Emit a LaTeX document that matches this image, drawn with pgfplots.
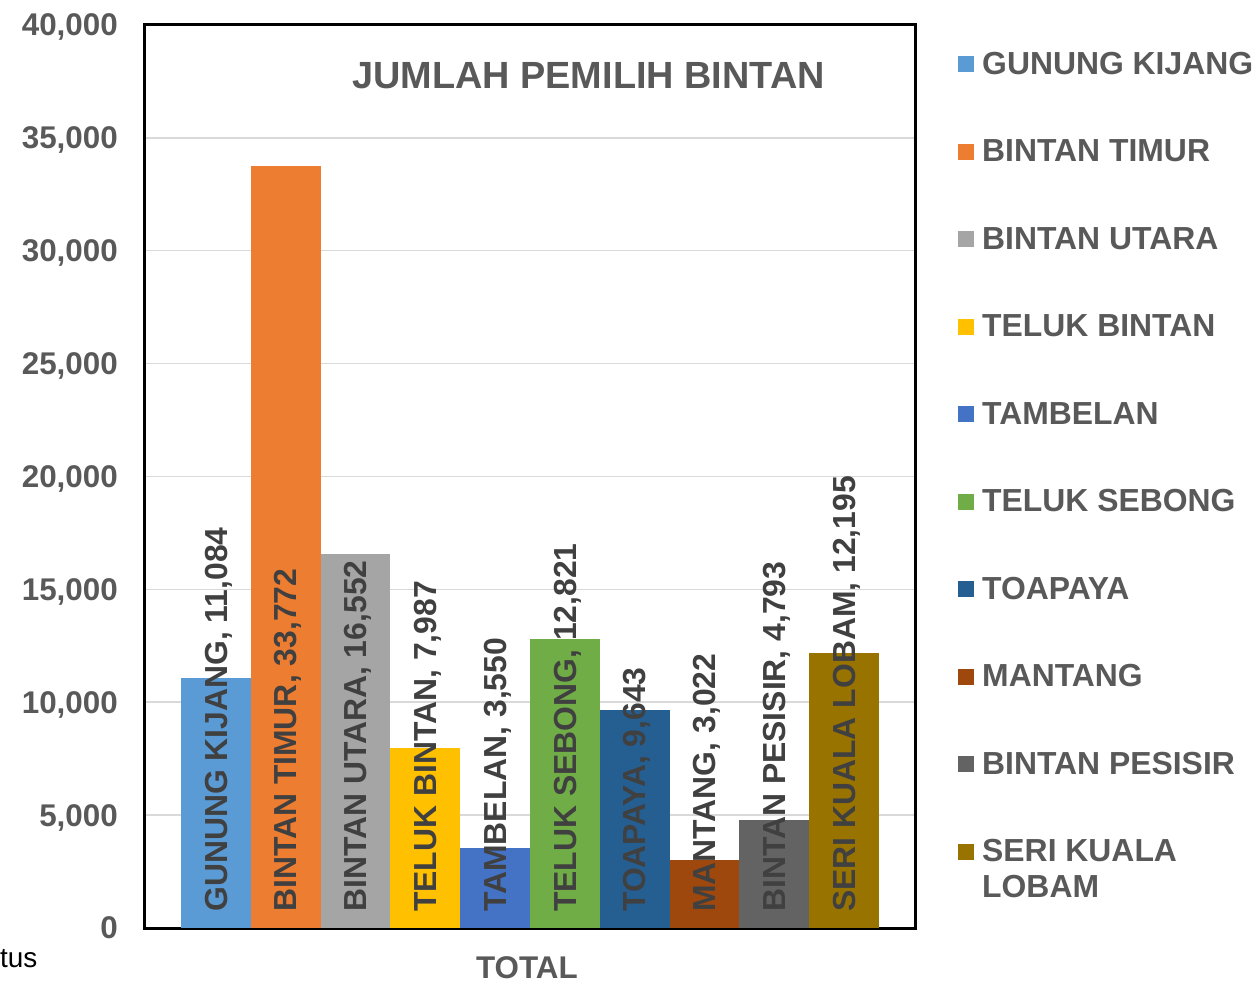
\documentclass[border=0pt]{standalone}
\usepackage{fontspec}
\setmainfont{Liberation Sans}
\usepackage{pgfplots}
\pgfplotsset{compat=1.18}
\usepackage{pgfplotstable}
\definecolor{c1}{HTML}{5B9BD5}
\definecolor{c2}{HTML}{ED7D31}
\definecolor{c3}{HTML}{A5A5A5}
\definecolor{c4}{HTML}{FFC000}
\definecolor{c5}{HTML}{4472C4}
\definecolor{c6}{HTML}{70AD47}
\definecolor{c7}{HTML}{255E91}
\definecolor{c8}{HTML}{9E480E}
\definecolor{c9}{HTML}{636363}
\definecolor{c10}{HTML}{997300}
\definecolor{txt}{HTML}{595959}
\definecolor{lbl}{HTML}{404040}
\definecolor{gridc}{HTML}{D9D9D9}

\pgfplotstableread[col sep=semicolon]{
x;y;label
0;0;GUNUNG KIJANG, 11,084
1;0;BINTAN TIMUR, 33,772
2;0;BINTAN UTARA, 16,552
3;0;TELUK BINTAN, 7,987
4;0;TAMBELAN, 3,550
5;0;TELUK SEBONG, 12,821
6;0;TOAPAYA, 9,643
7;0;MANTANG, 3,022
8;0;BINTAN PESISIR, 4,793
9;0;SERI KUALA LOBAM, 12,195
}\labeldata

\begin{document}
\begin{tikzpicture}
\begin{axis}[
  name=ax,
  scale only axis, width=770bp, height=903bp,
  xmin=-1.016, xmax=10.016, ymin=0, ymax=40000,
  bar width=1, bar shift=0pt,
  ytick={0,5000,...,40000},
  xtick=\empty,
  ymajorgrids, grid style={gridc, line width=1.5bp},
  major tick length=0pt,
  axis line style={black, line width=3bp},
  scaled y ticks=false,
  /pgf/number format/1000 sep={,},
  /pgf/number format/assume math mode=true,
  yticklabel style={font=\bfseries\fontsize{31.5}{36}\selectfont, text=txt, inner sep=0pt, anchor=east, xshift=-27bp, text depth=0pt},
  title={JUMLAH PEMILIH BINTAN},
  title style={at={(axis description cs:0.576,1)}, anchor=base, yshift=-69bp, font=\bfseries\fontsize{38}{44}\selectfont, text=txt, inner sep=0pt},
  xlabel={TOTAL},
  xlabel style={at={(axis description cs:0.496,0)}, anchor=base, yshift=-50bp, font=\bfseries\fontsize{31.5}{36}\selectfont, text=txt, inner sep=0pt},
  legend style={at={(1,1)}, anchor=north west, xshift=43bp, yshift=-25bp, draw=none, fill=none, inner sep=0pt, row sep=54.5bp, column sep=8bp, font=\bfseries\fontsize{32}{36}\selectfont, text=txt, nodes={inner sep=0pt, text height=24bp, text depth=9bp}},
  legend cell align=left,
  every axis plot post/.append style={legend image code/.code={\fill[##1] (0bp,-5.5bp) rectangle (16bp,10.5bp);}},
]
\addplot[ybar, fill=c1, draw=none] coordinates {(0,11084)};
\addlegendentry{GUNUNG KIJANG}
\addplot[ybar, fill=c2, draw=none] coordinates {(1,33772)};
\addlegendentry{BINTAN TIMUR}
\addplot[ybar, fill=c3, draw=none] coordinates {(2,16552)};
\addlegendentry{BINTAN UTARA}
\addplot[ybar, fill=c4, draw=none] coordinates {(3,7987)};
\addlegendentry{TELUK BINTAN}
\addplot[ybar, fill=c5, draw=none] coordinates {(4,3550)};
\addlegendentry{TAMBELAN}
\addplot[ybar, fill=c6, draw=none] coordinates {(5,12821)};
\addlegendentry{TELUK SEBONG}
\addplot[ybar, fill=c7, draw=none] coordinates {(6,9643)};
\addlegendentry{TOAPAYA}
\addplot[ybar, fill=c8, draw=none] coordinates {(7,3022)};
\addlegendentry{MANTANG}
\addplot[ybar, fill=c9, draw=none] coordinates {(8,4793)};
\addlegendentry{BINTAN PESISIR}
\addplot[ybar, fill=c10, draw=none] coordinates {(9,12195)};
\addlegendentry{\begin{tabular}[t]{@{}l@{}}SERI KUALA\\LOBAM\end{tabular}}
\addplot[forget plot, draw=none, nodes near coords, point meta=explicit symbolic,
  every node near coord/.style={yshift=16bp, rotate=90, anchor=west, inner sep=0pt, text depth=0pt, font=\bfseries\fontsize{32}{36}\selectfont, text=lbl}]
  table[x=x, y=y, meta=label] {\labeldata};
\end{axis}
\node[anchor=base west, inner sep=0pt, font=\fontsize{28}{32}\selectfont] at ([xshift=-145bp, yshift=-39bp]ax.south west) {tus};
\pgfresetboundingbox
\path ([xshift=-145bp,yshift=-55bp]ax.south west) rectangle ([xshift=341bp,yshift=25bp]ax.north east);
\end{tikzpicture}
\end{document}
